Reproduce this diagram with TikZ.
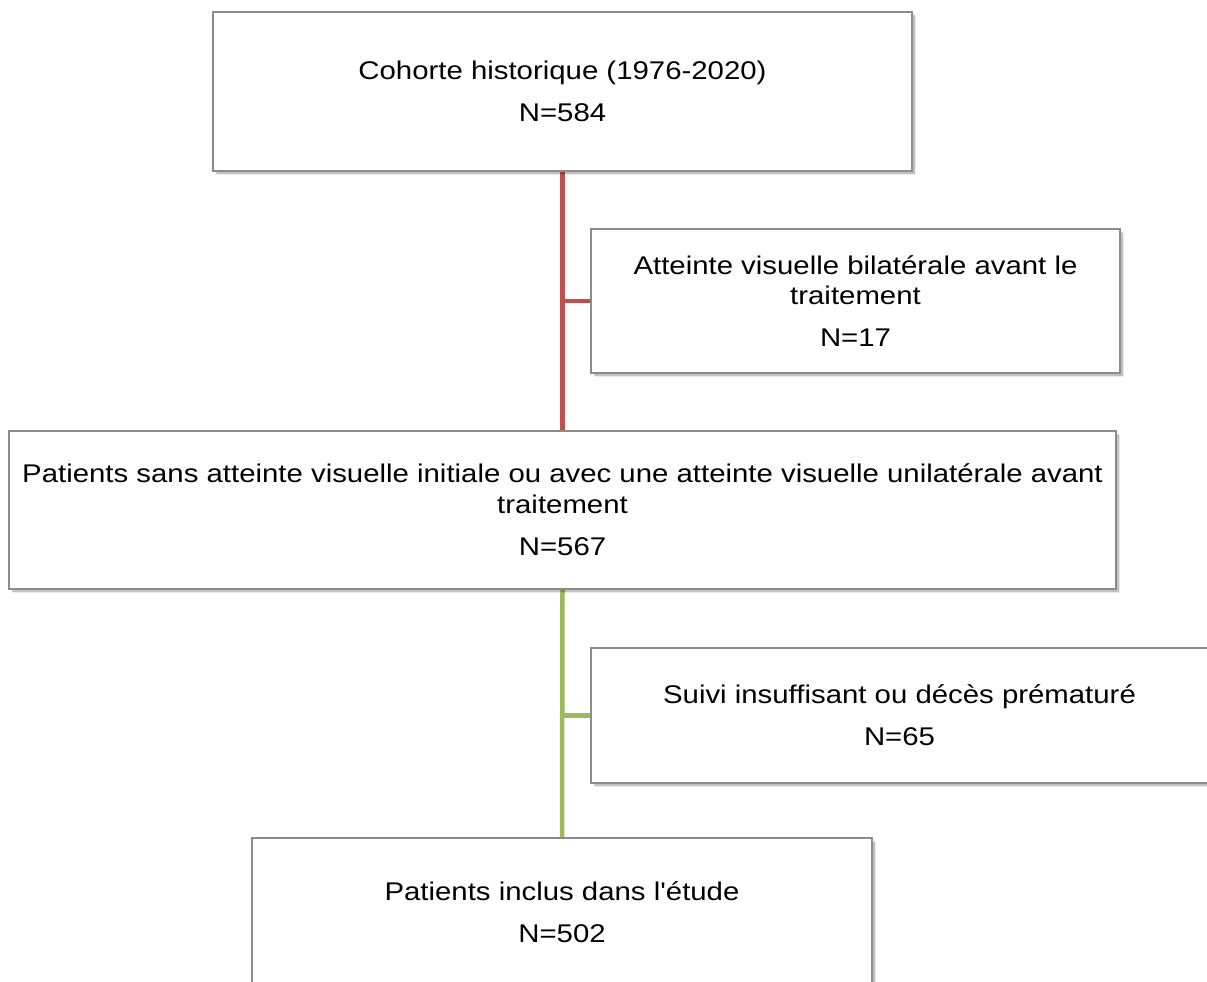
\documentclass[tikz,border=0pt]{standalone}
\usepackage{fontspec}
\setmainfont{Liberation Sans}
\newfontfamily\boxfont[FakeStretch=1.147]{Liberation Sans}
\usetikzlibrary{shadows,backgrounds}
\definecolor{redline}{HTML}{C0504D}
\definecolor{greenline}{HTML}{9BBB59}
\definecolor{boxborder}{HTML}{8C8C8C}
\tikzset{
  flowbox/.style={draw=boxborder, line width=1.4pt, fill=white, inner sep=0pt,
    rectangle,
    drop shadow={shadow xshift=4pt, shadow yshift=-4pt, fill=black, opacity=0.08},
    drop shadow={shadow xshift=2.5pt, shadow yshift=-2.5pt, fill=black, opacity=0.18},
    drop shadow={shadow xshift=1.2pt, shadow yshift=-1.2pt, fill=black, opacity=0.25}},
  txt/.style={anchor=base, inner sep=0pt, font=\boxfont\fontsize{25.6}{30}\selectfont},
  redconn/.style={draw=redline, line width=4.5pt},
  greenconn/.style={draw=greenline, line width=4.5pt}
}
\begin{document}
\begin{tikzpicture}[x=1pt,y=-1pt]
\useasboundingbox (0,0) rectangle (1207,982);
% boxes
\node[flowbox, minimum width=699pt, minimum height=159pt] (b1) at (562.5,91.5) {};
\node[flowbox, minimum width=529pt, minimum height=144pt] (b2) at (855.5,301) {};
\node[flowbox, minimum width=1107pt, minimum height=158pt] (b3) at (562.5,510) {};
\node[flowbox, minimum width=617pt, minimum height=135pt] (b4) at (899.5,715.5) {};
\node[flowbox, minimum width=620pt, minimum height=190pt] (b5) at (562,933) {};
% texts
\node[txt] (t1a) at (562.5,79.5) {Cohorte historique (1976-2020)};
\node[txt] (t1b) at (562.5,121.5) {N=584};
\node[txt] (t2a) at (855.5,274) {Atteinte visuelle bilatérale avant le};
\node[txt] (t2b) at (855.5,304) {traitement};
\node[txt] (t2c) at (855.5,346) {N=17};
\node[txt] (t3a) at (562.5,482) {Patients sans atteinte visuelle initiale ou avec une atteinte visuelle unilatérale avant};
\node[txt] (t3b) at (562.5,513) {traitement};
\node[txt] (t3c) at (562.5,555) {N=567};
\node[txt] (t4a) at (899.5,703.5) {Suivi insuffisant ou décès prématuré};
\node[txt] (t4b) at (899.5,745.5) {N=65};
\node[txt] (t5a) at (562,900) {Patients inclus dans l'étude};
\node[txt] (t5b) at (562,942) {N=502};
% connectors
\coordinate (rj) at (562.5,301);
\coordinate (gj) at (562.5,715.5);
\begin{scope}[on background layer]
\draw[redconn] (b1.south) -- (b3.north);
\draw[redconn] (rj) -- (b2.west);
\draw[greenconn] (b3.south) -- (b5.north);
\draw[greenconn] (gj) -- (b4.west);
\end{scope}
\end{tikzpicture}
\end{document}
